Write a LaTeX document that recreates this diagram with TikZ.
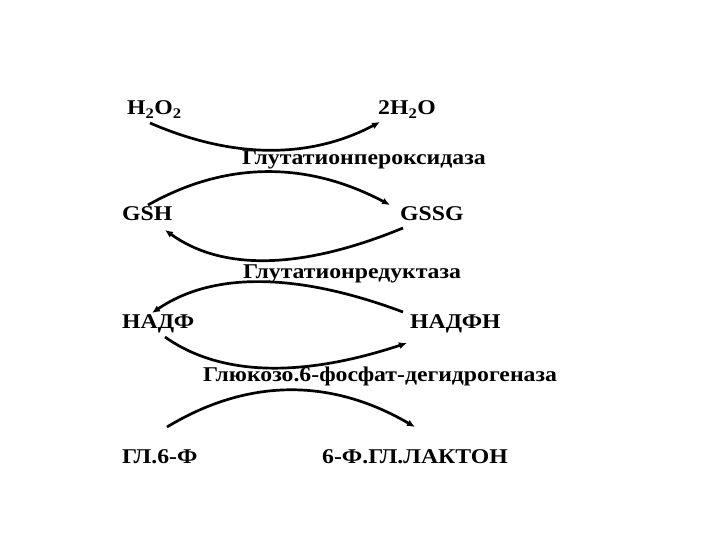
\documentclass[tikz,border=0pt]{standalone}
\usepackage{fontspec}
\setmainfont{Liberation Serif}[FakeStretch=1.13]
\usetikzlibrary{arrows.meta}
\tikzset{
  lbl/.style={anchor=base west, inner sep=0pt, font=\fontsize{21}{25}\selectfont\bfseries},
  rxn/.style={line width=2.7pt, -{Latex[length=8pt,width=7pt]}}
}
\begin{document}
\begin{tikzpicture}[x=1pt,y=-1pt]
\useasboundingbox (0,0) rectangle (720,540);
% labels
\node[lbl] (h2o2) at (127,115) {H\textsubscript{2}O\textsubscript{2}};
\node[lbl] (h2o) at (378,115) {2H\textsubscript{2}O};
\node[lbl] (gpx) at (242,165) {Глутатионпероксидаза};
\node[lbl] (gsh) at (122,221) {GSH};
\node[lbl] (gssg) at (400,221) {GSSG};
\node[lbl] (gr) at (243,278) {Глутатионредуктаза};
\node[lbl] (nadp) at (122,328) {НАДФ};
\node[lbl] (nadph) at (410,328) {НАДФН};
\node[lbl] (g6pd) at (203,381) {Глюкозо.6-фосфат-дегидрогеназа};
\node[lbl] (g6p) at (122,463) {ГЛ.6-Ф};
\node[lbl] (lac) at (322,463) {6-Ф.ГЛ.ЛАКТОН};
% arrow ends
\coordinate (a1s) at (150,123); \coordinate (a1e) at (380,122);
\coordinate (a2s) at (148,205); \coordinate (a2e) at (390,205);
\coordinate (a3s) at (403,228); \coordinate (a3e) at (165,230);
\coordinate (a4s) at (403,312); \coordinate (a4e) at (152,313);
\coordinate (a5s) at (165,337); \coordinate (a5e) at (407,343);
\coordinate (a6s) at (167,427); \coordinate (a6e) at (415,427);
\draw[rxn] (a1s) .. controls (233,159) and (310,159) .. (a1e);
\draw[rxn] (a2s) .. controls (226,161) and (307,161) .. (a2e);
\draw[rxn] (a3s) .. controls (301,270) and (222,271) .. (a3e);
\draw[rxn] (a4s) .. controls (296,272) and (212,272) .. (a4e);
\draw[rxn] (a5s) .. controls (220,376) and (301,378) .. (a5e);
\draw[rxn] (a6s) .. controls (248,378) and (331,378) .. (a6e);
\end{tikzpicture}
\end{document}
